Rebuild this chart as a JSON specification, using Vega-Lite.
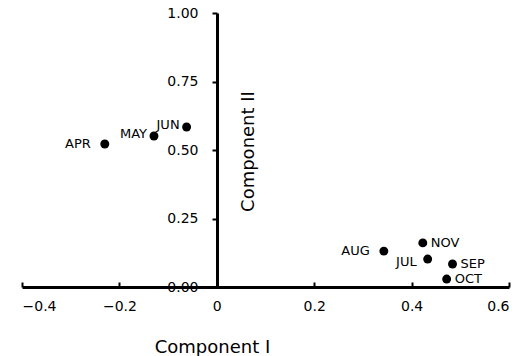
{
  "$schema": "https://vega.github.io/schema/vega-lite/v6.json",
  "width": 487,
  "height": 274,
  "autosize": {"type": "none"},
  "padding": {"left": 22, "top": 13, "right": 18, "bottom": 69},
  "background": "white",
  "config": {"view": {"stroke": null}},
  "data": {"values": [
    {"month": "APR", "c1": -0.230, "c2": 0.522},
    {"month": "MAY", "c1": -0.129, "c2": 0.551},
    {"month": "JUN", "c1": -0.062, "c2": 0.584},
    {"month": "JUL", "c1": 0.433, "c2": 0.102},
    {"month": "AUG", "c1": 0.343, "c2": 0.131},
    {"month": "SEP", "c1": 0.484, "c2": 0.084},
    {"month": "OCT", "c1": 0.472, "c2": 0.029},
    {"month": "NOV", "c1": 0.423, "c2": 0.161}
  ]},
  "encoding": {
    "x": {"field": "c1", "type": "quantitative",
      "scale": {"domain": [-0.4, 0.6], "nice": false, "zero": false},
      "axis": {
        "values": [-0.4, -0.2, 0, 0.2, 0.4, 0.6],
        "labelExpr": "datum.value == 0 ? '0' : format(datum.value, '.1f')",
        "grid": false, "domainColor": "black", "domainWidth": 3,
        "tickColor": "black", "tickWidth": 2, "tickSize": -5,
        "labelPadding": 17, "labelFont": "DejaVu Sans", "labelFontSize": 14, "labelColor": "black",
        "title": "Component I", "titleFont": "DejaVu Sans", "titleFontSize": 18, "titleFontWeight": "normal",
        "titleColor": "black", "titleX": 190, "titleY": 65, "titleBaseline": "alphabetic", "titleAlign": "center"
      }},
    "y": {"field": "c2", "type": "quantitative",
      "scale": {"domain": [0, 1], "nice": false},
      "axis": {
        "values": [0, 0.25, 0.5, 0.75, 1],
        "format": ".2f", "offset": -195,
        "grid": false, "domainColor": "black", "domainWidth": 3,
        "tickColor": "black", "tickWidth": 2, "tickSize": 5,
        "labelPadding": 14, "labelFont": "DejaVu Sans", "labelFontSize": 14, "labelColor": "black",
        "title": "Component II", "titleFont": "DejaVu Sans", "titleFontSize": 18, "titleFontWeight": "normal",
        "titleColor": "black", "titleAngle": -90, "titleX": 36, "titleY": 138, "titleBaseline": "alphabetic", "titleAlign": "center"
      }}
  },
  "layer": [
    {"mark": {"type": "point", "filled": true, "color": "black", "size": 80, "opacity": 1}},
    {"transform": [{"filter": "indexof(['APR','AUG'], datum.month) >= 0"}],
     "mark": {"type": "text", "align": "right", "baseline": "middle", "dx": -14, "font": "DejaVu Sans", "fontSize": 13, "color": "black"},
     "encoding": {"text": {"field": "month"}}},
    {"transform": [{"filter": "indexof(['MAY','JUN'], datum.month) >= 0"}],
     "mark": {"type": "text", "align": "right", "baseline": "middle", "dx": -7, "dy": -2, "font": "DejaVu Sans", "fontSize": 13, "color": "black"},
     "encoding": {"text": {"field": "month"}}},
    {"transform": [{"filter": "datum.month == 'JUL'"}],
     "mark": {"type": "text", "align": "right", "baseline": "middle", "dx": -11, "dy": 3, "font": "DejaVu Sans", "fontSize": 13, "color": "black"},
     "encoding": {"text": {"field": "month"}}},
    {"transform": [{"filter": "indexof(['SEP','OCT','NOV'], datum.month) >= 0"}],
     "mark": {"type": "text", "align": "left", "baseline": "middle", "dx": 8, "font": "DejaVu Sans", "fontSize": 13, "color": "black"},
     "encoding": {"text": {"field": "month"}}}
  ]
}
